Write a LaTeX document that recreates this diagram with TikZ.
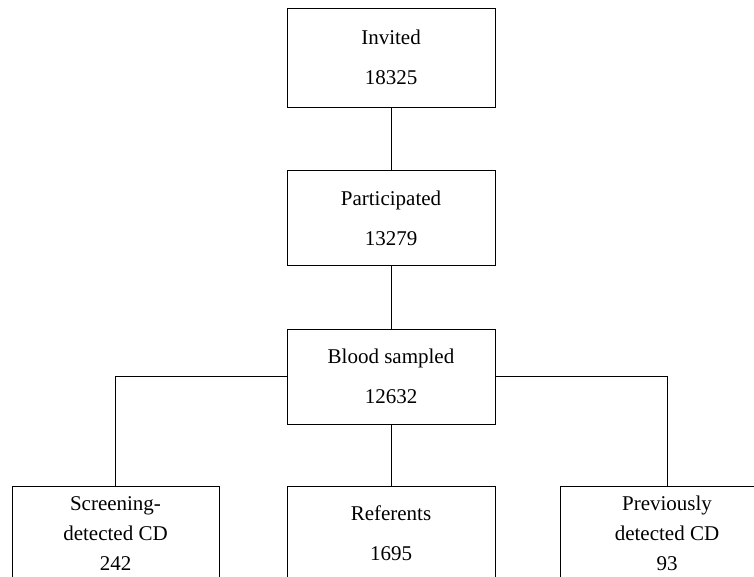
\documentclass[tikz,border=0pt]{standalone}
\usepackage{fontspec}
\setmainfont{Liberation Serif}
\usetikzlibrary{positioning}

\begin{document}
\begin{tikzpicture}[x=1pt, y=-1pt,
                box/.style={draw, line width=0.9pt, minimum width=208pt, minimum height=95pt,
                            align=center, font=\fontsize{21}{40}\selectfont},
                tallbox/.style={box, font=\fontsize{21}{30}\selectfont},
                link/.style={line width=0.9pt}]
                \clip (0,0) rectangle (754,577);
                \node[box, minimum height=99pt] (invited) at (391,57.5) {Invited\\18325};
                \node[box] (particip) at (391,218) {Participated\\13279};
                \node[box] (blood) at (391,376.5) {Blood sampled\\12632};
                \node[tallbox, minimum width=207pt] (screen) at (115.5,533.5) {Screening-\\detected CD\\242};
                \node[box] (referents) at (391,533.5) {Referents\\1695};
                \node[tallbox, minimum width=214pt] (previous) at (667,533.5) {Previously\\detected CD\\93};
                \draw[link] (invited) -- (particip);
                \draw[link] (particip) -- (blood);
                \draw[link] (blood) -- (referents);
                \draw[link] (blood.west) -| (screen.north);
                \draw[link] (blood.east) -| (previous.north);
            \end{tikzpicture}
\end{document}
